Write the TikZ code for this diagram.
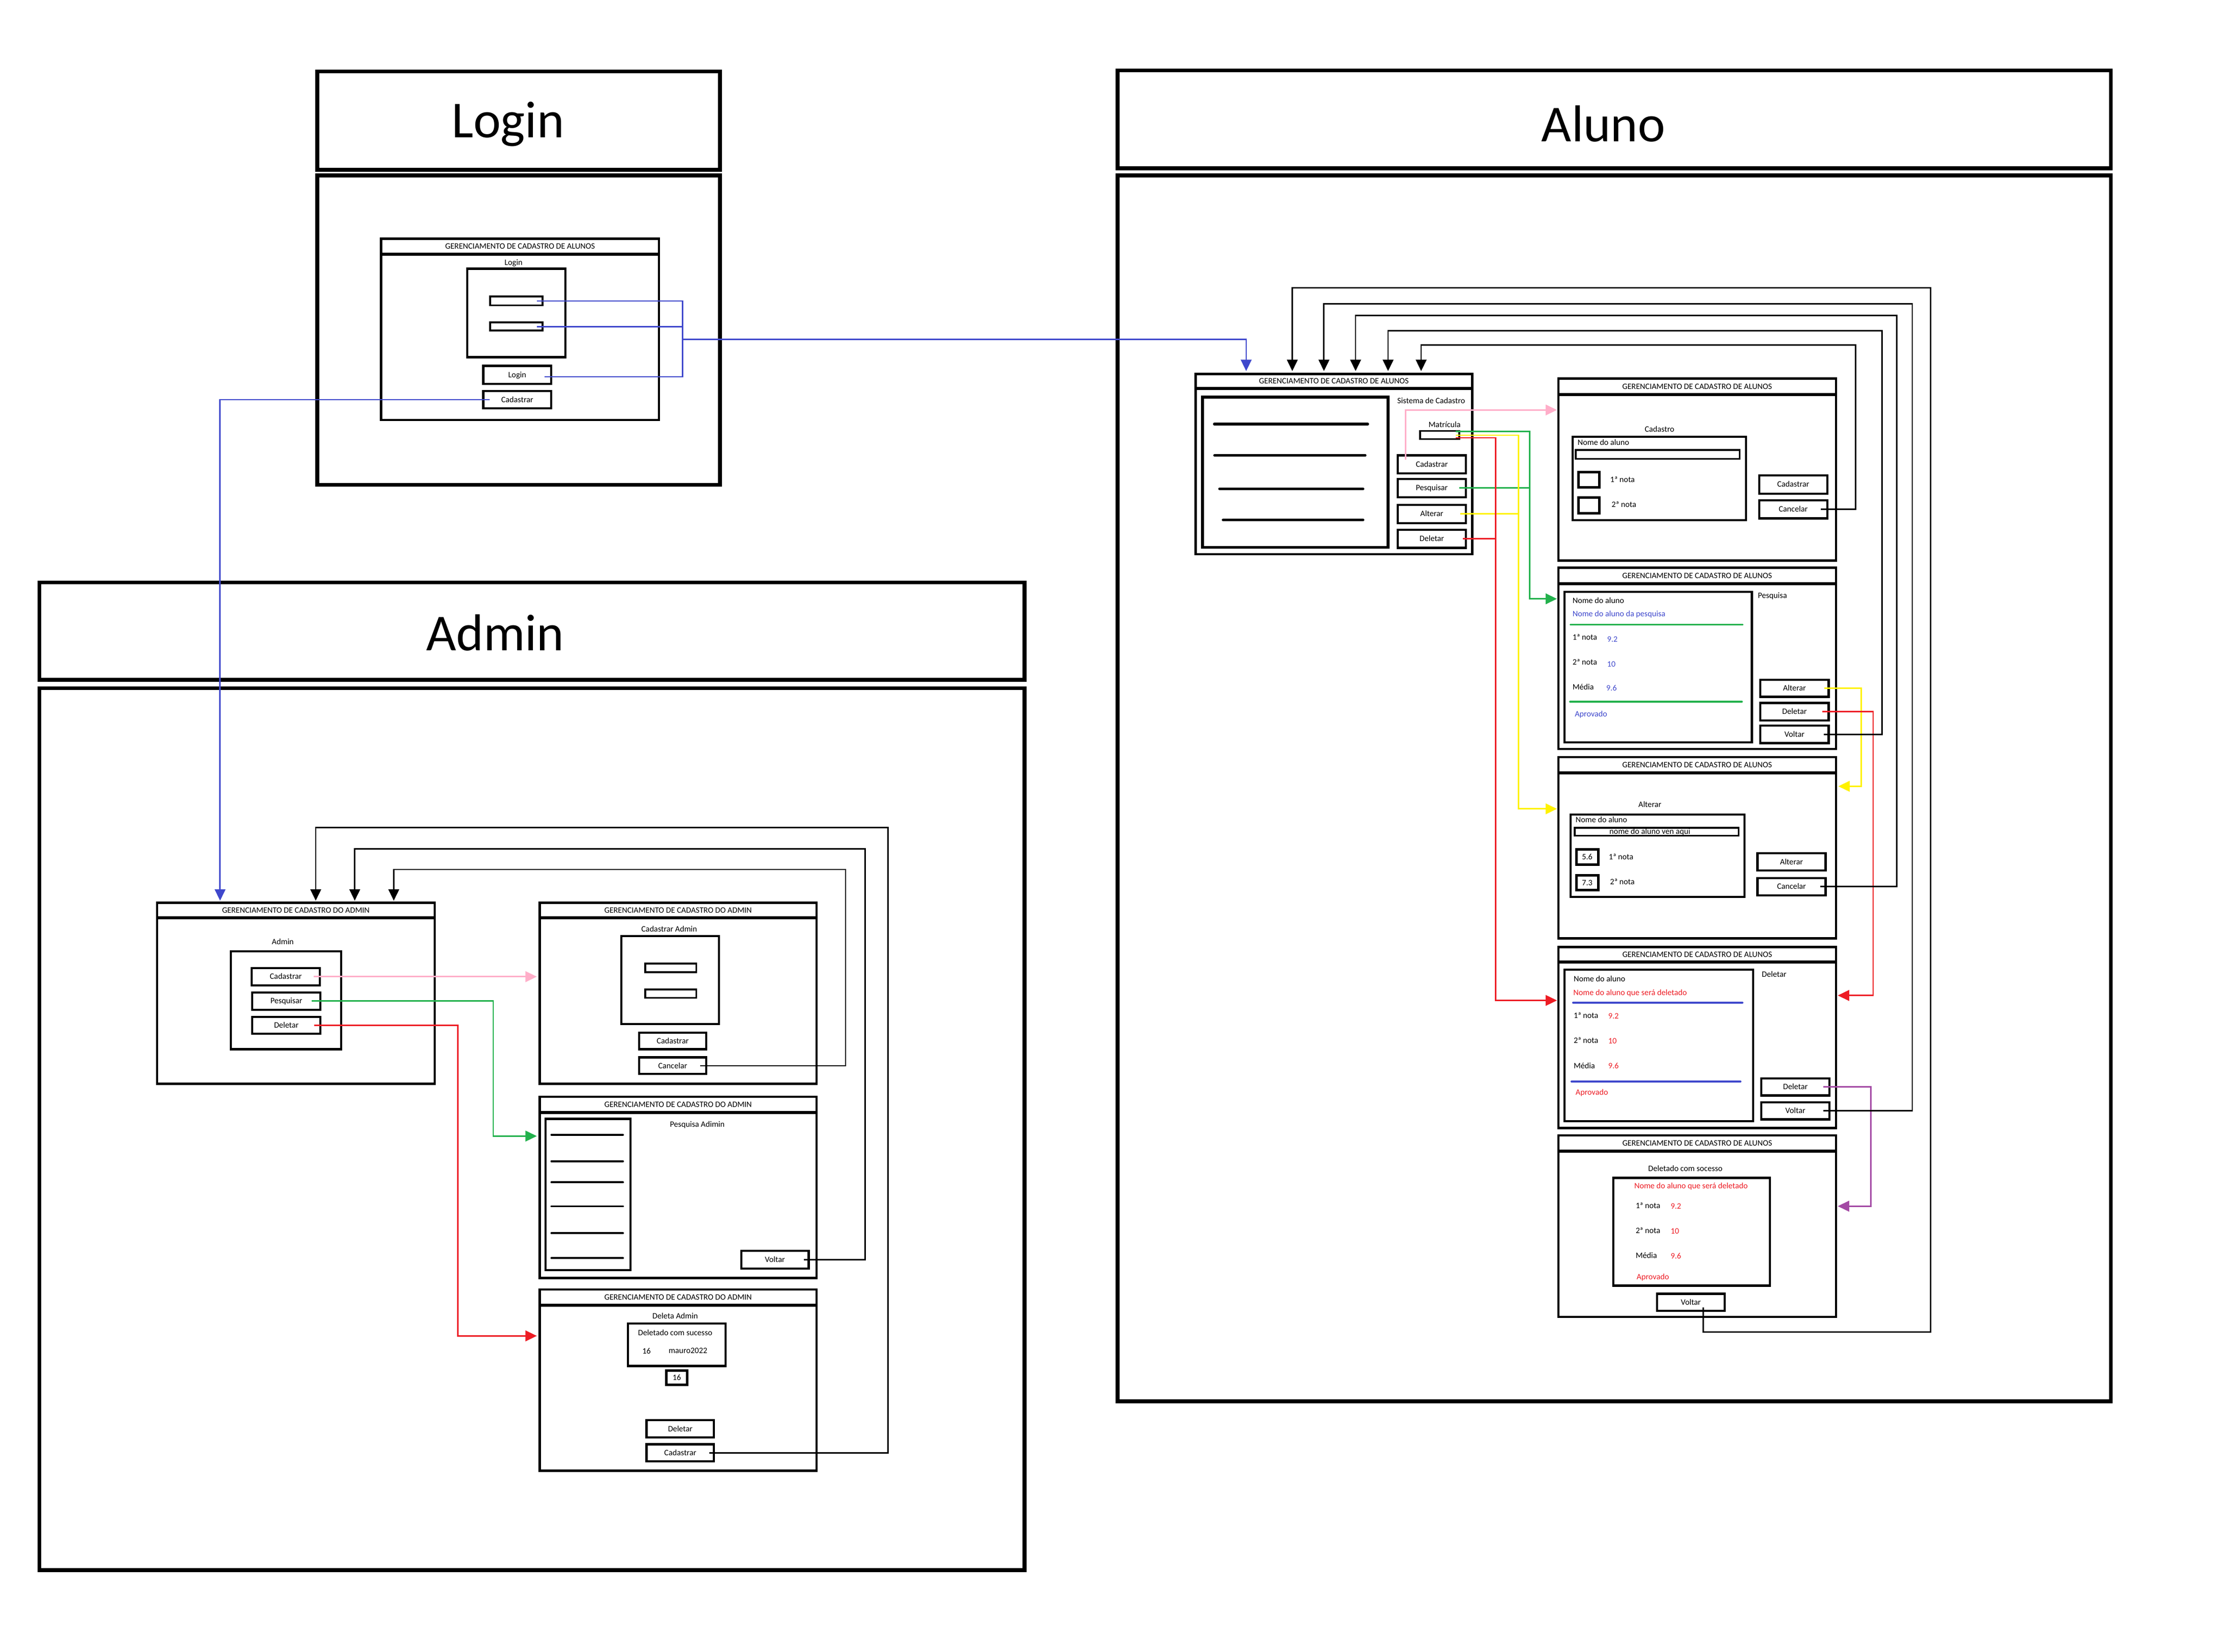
\documentclass[tikz,border=0pt]{standalone}
\usepackage{fontspec}
\setmainfont{Carlito}
\usetikzlibrary{arrows.meta,calc}
\definecolor{pblue}{HTML}{3F48CC}
\definecolor{ppink}{HTML}{FFAEC9}
\definecolor{pgreen}{HTML}{22B14C}
\definecolor{pred}{HTML}{ED1C24}
\definecolor{pyellow}{HTML}{FFF200}
\definecolor{ppurple}{HTML}{A349A4}
\newcommand\smallfs{\fontsize{16.5}{19}\selectfont}
\newcommand\bigfs{\fontsize{104}{120}\selectfont}
\newcommand\mkbox[6]{\node[#1, minimum width={(#5-#3)*1mm}, minimum height={(#6-#4)*1mm}] (#2) at (#3,#4) {};}
\newcommand\mkbtn[6]{\node[btn, minimum width={(#4-#2)*1mm}, minimum height={(#5-#3)*1mm}] (#1) at (#2,#3) {#6};}
\newcommand\mkwin[7]{\mkbox{win}{#1}{#2}{#3}{#4}{#5}\draw[line width=2.2mm] (#2,#6) -- (#4,#6);\node[txt] (#1-t) at ({(#2+#4)/2},{(#3+#6)/2}) {#7};}
\tikzset{
  every node/.style={inner sep=0pt, outer sep=0pt},
  txt/.style={font=\smallfs, text height=3.67mm, text depth=0pt},
  tl/.style={txt, anchor=west},
  region/.style={draw, line width=2.7mm, anchor=north west},
  win/.style={draw, line width=1.6mm, anchor=north west},
  innerbox/.style={draw, line width=1.5mm, anchor=north west},
  fieldbox/.style={draw, line width=1.3mm, anchor=north west},
  numbox/.style={draw, line width=1.8mm, anchor=north west, txt},
  btn/.style={draw, line width=1.5mm, anchor=north west, txt},
  conn/.style={line width=1mm},
  arr/.style={conn, -{Triangle[length=8mm,width=7.5mm]}},
  bigtitle/.style={font=\bigfs, anchor=base},
  listline/.style={line width=2mm, line cap=round},
  sepline/.style={line width=1.4mm, line cap=round},
}
\begin{document}
\begin{tikzpicture}[x=1mm,y=-1mm]
\fill[white] (0,0) rectangle (1568,1164);
\useasboundingbox (0,0) rectangle (1568,1164);

% ================= LOGIN =================
\mkbox{region}{loginH}{223.6}{50.4}{507.4}{119.7}
\node[bigtitle] (loginT) at (358,97) {Login};
\mkbox{region}{loginC}{223.6}{123.7}{507.4}{341.7}
\mkwin{lw}{268.6}{168.2}{464.4}{296}{179.2}{GERENCIAMENTO DE CADASTRO DE ALUNOS}
\node[txt] (lwl) at (361.9,185) {Login};
\mkbox{innerbox}{lwsq}{329.2}{189.4}{398.4}{251.7}
\mkbox{fieldbox}{lwf1}{345.5}{209}{382.3}{215.2}
\mkbox{fieldbox}{lwf2}{345.5}{227.2}{382.3}{233}
\mkbtn{lwlogin}{340.6}{257.8}{388.4}{270.4}{Login}
\mkbtn{lwcad}{340.6}{275.5}{388.4}{287.8}{Cadastrar}

% ================= ADMIN =================
\mkbox{region}{adminH}{27.8}{410.4}{722}{479}
\node[bigtitle] (adminT) at (349,458.4) {Admin};
\mkbox{region}{adminC}{27.8}{485}{722}{1106.5}

\mkwin{admw}{110.7}{636.2}{306.3}{763.8}{646.7}{GERENCIAMENTO DE CADASTRO DO ADMIN}
\node[txt] (admwl) at (199.3,663.7) {Admin};
\mkbox{innerbox}{admbx}{162.8}{670.3}{240.3}{739.4}
\mkbtn{admcad}{177.4}{682.1}{225.4}{694.4}{Cadastrar}
\mkbtn{admpes}{177.8}{699.3}{225.8}{711.6}{Pesquisar}
\mkbtn{admdel}{177.8}{716.5}{225.8}{728.4}{Deletar}

\mkwin{adcw}{380.3}{636.2}{575.4}{763.8}{646.7}{GERENCIAMENTO DE CADASTRO DO ADMIN}
\node[txt] (adcwl) at (471.6,654.6) {Cadastrar Admin};
\mkbox{innerbox}{adcsq}{437.9}{659.8}{506.6}{721.6}
\mkbox{fieldbox}{adcf1}{454.6}{679}{490.7}{685}
\mkbox{fieldbox}{adcf2}{454.6}{697.2}{490.7}{703.2}
\mkbtn{adccad}{450.4}{727.6}{497.7}{739.4}{Cadastrar}
\mkbtn{adccan}{450.4}{745.1}{497.7}{756.9}{Cancelar}

\mkwin{adpw}{380.3}{772.9}{575.4}{900.7}{784}{GERENCIAMENTO DE CADASTRO DO ADMIN}
\node[txt] (adpwl) at (491.4,792.2) {Pesquisa Adimin};
\mkbox{innerbox}{adplist}{384.5}{788.5}{444.2}{895}
\foreach \yy in {799.7,818.4,833.2,850.1,869,886.6}{\draw[sepline] (388.6,\yy) -- (439,\yy);}
\mkbtn{adpvol}{522.3}{881.4}{569.9}{894.1}{Voltar}

\mkwin{addw}{380.3}{908.7}{575.4}{1036.5}{919.7}{GERENCIAMENTO DE CADASTRO DO ADMIN}
\node[txt] (addwl) at (475.8,927.3) {Deleta Admin};
\mkbox{innerbox}{addbx}{442.5}{932.7}{511.2}{962.6}
\node[txt] (addok) at (475.8,939.3) {Deletado com sucesso};
\node[txt] (addid) at (455.6,952.3) {16};
\node[txt] (addnm) at (484.8,951.9) {mauro2022};
\node[numbox, minimum width=14.9mm, minimum height=10mm] (addnum) at (469.5,965.9) {16};
\mkbtn{adddel}{455.6}{1000.9}{503.2}{1012.9}{Deletar}
\mkbtn{addcad}{455.6}{1017.8}{503.2}{1029.8}{Cadastrar}

% ================= ALUNO =================
\mkbox{region}{alunoH}{787.5}{49.7}{1487.5}{118.6}
\node[bigtitle] (alunoT) at (1130,99.7) {Aluno};
\mkbox{region}{alunoC}{787.5}{123.6}{1487.5}{987.5}

% main window
\mkwin{aw}{842.5}{263.5}{1037.5}{390.6}{273.8}{GERENCIAMENTO DE CADASTRO DE ALUNOS}
\node[draw, line width=2mm, anchor=north west, minimum width=130.7mm, minimum height=105.9mm] (awlist) at (847.5,279.8) {};
\draw[listline] (855.8,298.8) -- (963.8,298.8);
\draw[listline] (856,320.9) -- (962,320.9);
\draw[listline] (859.5,344.5) -- (960.5,344.5);
\draw[listline] (862,366.4) -- (960.5,366.4);
\node[txt] (awsys) at (1008.6,282.5) {Sistema de Cadastro};
\node[txt] (awmatl) at (1018,299.2) {Matrícula};
\mkbox{fieldbox}{awmat}{1000.8}{303.7}{1028.3}{309.4}
\mkbtn{awcad}{985}{320.9}{1033}{333.6}{Cadastrar}
\mkbtn{awpes}{985}{337.5}{1033}{350.3}{Pesquisar}
\mkbtn{awalt}{985}{355.8}{1033}{368.6}{Alterar}
\mkbtn{awdel}{985}{373.3}{1033}{386.1}{Deletar}

% Cadastro
\mkwin{acw}{1098.2}{266.8}{1293.8}{395}{278.1}{GERENCIAMENTO DE CADASTRO DE ALUNOS}
\node[txt] (acwl) at (1169.5,302.6) {Cadastro};
\mkbox{innerbox}{acwbx}{1108.4}{307.8}{1230.4}{366.5}
\node[tl] (acwnm) at (1111.8,311.9) {Nome do aluno};
\mkbox{fieldbox}{acwf}{1110.5}{317}{1226}{323.4}
\mkbox{numbox}{acwc1}{1112.3}{332.6}{1127.2}{343.3}
\mkbox{numbox}{acwc2}{1112.3}{350.7}{1127.2}{361.8}
\node[txt] (acwn1) at (1143.4,338) {1ª nota};
\node[txt] (acwn2) at (1144.4,355.7) {2ª nota};
\mkbtn{acwcad}{1239.7}{335}{1287.7}{347.8}{Cadastrar}
\mkbtn{acwcan}{1239.7}{352.5}{1287.7}{365.3}{Cancelar}

% Pesquisa
\mkwin{apw}{1098.2}{400}{1293.8}{527.7}{411.2}{GERENCIAMENTO DE CADASTRO DE ALUNOS}
\mkbox{innerbox}{apwbx}{1102.5}{417}{1234.6}{523}
\node[tl] (apwnm) at (1108.2,423.2) {Nome do aluno};
\node[tl, text=pblue] (apwnv) at (1108.2,432.5) {Nome do aluno da pesquisa};
\draw[sepline, pgreen] (1106.9,440.2) -- (1227.9,440.2);
\node[tl] (apwn1) at (1108.2,449) {1ª nota};
\node[tl, text=pblue] (apwv1) at (1132.6,450.4) {9.2};
\node[tl] (apwn2) at (1108.2,466.5) {2ª nota};
\node[tl, text=pblue] (apwv2) at (1132.6,468) {10};
\node[tl] (apwmd) at (1108.2,484.3) {Média};
\node[tl, text=pblue] (apwvm) at (1132,484.8) {9.6};
\draw[sepline, pgreen] (1106.5,494.5) -- (1227.5,494.5);
\node[tl, text=pblue] (apwap) at (1109.8,503.1) {Aprovado};
\node[tl] (apwl) at (1238.8,419.7) {Pesquisa};
\mkbtn{apwalt}{1240.5}{479}{1288.7}{491.1}{Alterar}
\mkbtn{apwdel}{1240.5}{495.4}{1288.7}{507.6}{Deletar}
\mkbtn{apwvol}{1240.5}{511.3}{1288.7}{523.7}{Voltar}

% Alterar
\mkwin{aaw}{1098.2}{533.5}{1293.8}{661.3}{544.6}{GERENCIAMENTO DE CADASTRO DE ALUNOS}
\node[txt] (aawl) at (1162.7,567.1) {Alterar};
\mkbox{innerbox}{aawbx}{1106.9}{574}{1229.5}{632.2}
\node[tl] (aawnm) at (1110.4,577.6) {Nome do aluno};
\mkbox{fieldbox}{aawf}{1109.6}{583.3}{1225.3}{588.9}
\node[txt] (aawfv) at (1162.7,585.8) {nome do aluno ven aqui};
\node[numbox, minimum width=15.5mm, minimum height=10.5mm] (aawc1) at (1110.8,598.7) {5.6};
\node[numbox, minimum width=15.5mm, minimum height=10.4mm] (aawc2) at (1110.8,617) {7.3};
\node[txt] (aawn1) at (1142.4,604) {1ª nota};
\node[txt] (aawn2) at (1143.3,621.5) {2ª nota};
\mkbtn{aawalt}{1238.5}{601.2}{1286.5}{613.4}{Alterar}
\mkbtn{aawcan}{1238.5}{618.7}{1286.5}{630.9}{Cancelar}

% Deletar
\mkwin{adw}{1098.2}{667.3}{1293.9}{794.9}{677.9}{GERENCIAMENTO DE CADASTRO DE ALUNOS}
\mkbox{innerbox}{adwbx}{1102.5}{683.3}{1235.4}{790}
\node[tl] (adwnm) at (1109,689.8) {Nome do aluno};
\node[tl, text=pred] (adwnv) at (1108.8,699.5) {Nome do aluno que será deletado};
\draw[sepline, pblue] (1108.6,706.6) -- (1227.9,706.6);
\node[tl] (adwn1) at (1109,715.7) {1ª nota};
\node[tl, text=pred] (adwv1) at (1133.4,716) {9.2};
\node[tl] (adwn2) at (1109,733.2) {2ª nota};
\node[tl, text=pred] (adwv2) at (1133.4,733.5) {10};
\node[tl] (adwmd) at (1109,751) {Média};
\node[tl, text=pred] (adwvm) at (1133.4,751.3) {9.6};
\draw[sepline, pblue] (1107.5,762.2) -- (1226.5,762.2);
\node[tl, text=pred] (adwap) at (1110.4,769.7) {Aprovado};
\node[tl] (adwl) at (1241.6,686.5) {Deletar};
\mkbtn{adwdel}{1241.3}{760}{1289.2}{772}{Deletar}
\mkbtn{adwvol}{1241.3}{776.8}{1289.2}{788.8}{Voltar}

% Deletado
\mkwin{aow}{1098.2}{800.1}{1293.9}{928.1}{811.1}{GERENCIAMENTO DE CADASTRO DE ALUNOS}
\node[txt] (aowl) at (1187.7,823.4) {Deletado com socesso};
\mkbox{innerbox}{aowbx}{1137}{830}{1247.2}{906}
\node[txt, text=pred] (aownv) at (1191.7,835.8) {Nome do aluno que será deletado};
\node[tl] (aown1) at (1152.7,849.7) {1ª nota};
\node[tl, text=pred] (aowv1) at (1177.4,850) {9.2};
\node[tl] (aown2) at (1152.7,867.1) {2ª nota};
\node[tl, text=pred] (aowv2) at (1177.4,867.5) {10};
\node[tl] (aowmd) at (1152.7,884.8) {Média};
\node[tl, text=pred] (aowvm) at (1177.4,885.2) {9.6};
\node[tl, text=pred] (aowap) at (1153.4,900) {Aprovado};
\mkbtn{aowvol}{1167.7}{911.7}{1215.4}{923.7}{Voltar}

% ================= CONNECTORS: LOGIN =================
\coordinate (bj) at (480.9,239.1);
\draw[conn, pblue] ([xshift=-4mm]lwf1.east) -| (bj);
\draw[conn, pblue] ([xshift=-4mm]lwf2.east) -| (bj);
\draw[conn, pblue] ($(lwlogin.east)+(-4.6,1.4)$) -| (bj);
\draw[arr, pblue] (bj) -| ($(aw.north west)+(35.7,-2)$);
\draw[arr, pblue] ([xshift=4.4mm]lwcad.west) -| ($(admw.north west)+(44.4,-1.5)$);

% ================= CONNECTORS: ADMIN =================
\draw[arr, ppink] ([xshift=-4.4mm]admcad.east) -- ($(adcw.west |- admcad.east)+(-2,0)$);
\draw[arr, pgreen] ([xshift=-6mm]admpes.east) -| (347.6,800.6) -- ($(adpw.west |- 0,800.6)+(-2,0)$);
\draw[arr, pred] ([xshift=-4.4mm]admdel.east) -| (322.6,941.4) -- ($(addw.west |- 0,941.4)+(-2,0)$);
\draw[arr] ([xshift=-4.3mm]adccan.east) -| (595.9,612.7) -| ($(admw.north west)+(166.8,-1.5)$);
\draw[arr] ([xshift=-3.5mm]adpvol.east) -| (609.8,598.2) -| ($(admw.north west)+(139.3,-1.5)$);
\draw[arr] ([xshift=-3.5mm]addcad.east) -| (625.8,583.1) -| ($(admw.north west)+(111.8,-1.5)$);

% ================= CONNECTORS: ALUNO =================
\draw[arr, ppink] ($(awcad.north west)+(5.5,3)$) |- ($(acw.west |- 0,288.9)+(-1,0)$);
\draw[arr, pgreen] ($(awmat.east)+(-2.3,-2.55)$) -| (1078,422) -- ($(apw.west |- 0,422)+(-1,0)$);
\draw[conn, pgreen] ([xshift=-4.7mm]awpes.east) -- ++(49.7,0);
\draw[arr, pyellow] ($(awmat.east)+(-2.3,0.15)$) -| (1070,570) -- ($(aaw.west |- 0,570)+(-1,0)$);
\draw[conn, pyellow] ([xshift=-4mm]awalt.east) -- ++(41,0);
\draw[arr, pred] ($(awmat.east)+(-2.3,1.95)$) -| (1054,705) -- ($(adw.west |- 0,705)+(-1,0)$);
\draw[conn, pred] ([xshift=-2mm]awdel.east) -- ++(23,0);

\draw[arr, pyellow] ([xshift=-3.2mm]apwalt.east) -| (1311.6,554.1) -- ($(aaw.east |- 0,554.1)+(1.7,0)$);
\draw[arr, pred] ([xshift=-4.5mm]apwdel.east) -| (1320,701.5) -- ($(adw.east |- 0,701.5)+(1.2,0)$);
\draw[arr, ppurple] ([xshift=-4.3mm]adwdel.east) -| (1318.3,850) -- ($(aow.east |- 0,850)+(1.2,0)$);

\draw[arr] ([xshift=-4.5mm]acwcan.east) -| (1307.6,243.2) -| ($(aw.north west)+(159,-2)$);
\draw[arr] ([xshift=-3.5mm]apwvol.east) -| (1326.4,233) -| ($(aw.north west)+(135.7,-2)$);
\draw[arr] ([xshift=-3.8mm]aawcan.east) -| (1336.7,222.4) -| ($(aw.north west)+(112.8,-2)$);
\draw[arr] ([xshift=-4.3mm]adwvol.east) -| (1347.6,214.1) -| ($(aw.north west)+(90.5,-2)$);
\draw[arr] ($(aowvol.center)+(8.75,3.7)$) |- (1360.5,938.7) |- (910.7,202.8) -- ($(aw.north west)+(68.2,-2)$);
\end{tikzpicture}
\end{document}
